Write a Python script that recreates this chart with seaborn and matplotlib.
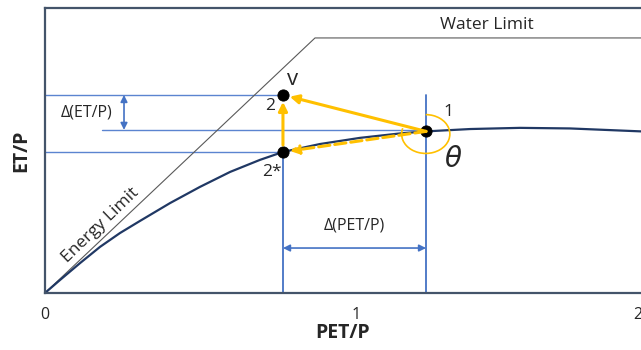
import matplotlib
matplotlib.use("Agg")
import matplotlib.pyplot as plt
from matplotlib.patches import Arc
import pandas as pd
import seaborn as sns

# Budyko-type curve (PET/P, ET/P)
curve_x = [0, 0.048, 0.113, 0.177, 0.241, 0.305, 0.402, 0.498, 0.595, 0.691,
           0.765, 0.884, 1.013, 1.141, 1.225, 1.367, 1.527, 1.688, 1.916]
curve_y = [0, 0.044, 0.102, 0.157, 0.204, 0.245, 0.306, 0.361, 0.412, 0.453,
           0.480, 0.507, 0.528, 0.543, 0.550, 0.558, 0.562, 0.560, 0.550]

# energy / water limit
limit_x = [0, 0.868, 1.916]
limit_y = [0, 0.868, 0.868]

# state points
pt_names = ["1", "2*", "2"]
pt_x = [1.225, 0.765, 0.765]
pt_y = [0.550, 0.480, 0.674]

tick_pos = [0, 1, 1.905]
tick_labels = ["0", "1", "2"]

navy = "#203864"
blue = "#5B84D0"
yellow = "#FFC000"

sns.set_style("white")
plt.rcParams["font.family"] = ["Open Sans", "DejaVu Sans"]

fig = plt.figure(figsize=(6.41, 3.5), dpi=100)
ax = fig.add_axes([0.0702, 0.1629, 0.9298, 0.8143])

# guide lines
ax.plot([0, pt_x[2]], [pt_y[2], pt_y[2]], color=blue, lw=1)
ax.plot([0.183, pt_x[0]], [0.555, 0.555], color=blue, lw=1)
ax.plot([0, pt_x[1]], [pt_y[1], pt_y[1]], color=blue, lw=1)
ax.plot([pt_x[1], pt_x[1]], [0, pt_y[1]], color="#4472C4", lw=1.3)
ax.plot([pt_x[0], pt_x[0]], [0, pt_y[2]], color="#4472C4", lw=1.3)

# delta arrows
ax.annotate("", xy=(0.254, 0.674), xytext=(0.254, 0.555),
            arrowprops=dict(arrowstyle="<|-|>", color="#4472C4", lw=1.2,
                            mutation_scale=10, shrinkA=0, shrinkB=0))
ax.text(0.135, 0.613, "Δ(ET/P)", fontsize=11.5, ha="center", va="center")
ax.annotate("", xy=(pt_x[1], 0.153), xytext=(pt_x[0], 0.153),
            arrowprops=dict(arrowstyle="<|-|>", color="#4472C4", lw=1.2,
                            mutation_scale=10, shrinkA=0, shrinkB=0))
ax.text(0.995, 0.231, "Δ(PET/P)", fontsize=11.5, ha="center", va="center")

# limits and curve
sns.lineplot(x=limit_x, y=limit_y, color="#595959", lw=0.8, ax=ax,
             sort=False, estimator=None)
sns.lineplot(x=curve_x, y=curve_y, color=navy, lw=1.6, ax=ax,
             sort=False, estimator=None)
ax.text(1.421, 0.912, "Water Limit", fontsize=12.5, ha="center", va="center")
ax.text(0.18, 0.231, "Energy Limit", fontsize=12.5, ha="center", va="center",
        rotation=44)

# points
pts = pd.DataFrame({"name": pt_names, "x": pt_x, "y": pt_y})
sns.scatterplot(data=pts, x="x", y="y", color="black", s=65, ax=ax,
                zorder=5, edgecolor="black", legend=False)

# yellow arrows
ax.annotate("", xy=(pt_x[2], pt_y[2]), xytext=(pt_x[0], pt_y[0]),
            arrowprops=dict(arrowstyle="-|>", color=yellow, lw=2.2,
                            mutation_scale=13, shrinkA=0, shrinkB=5), zorder=6)
ax.annotate("", xy=(pt_x[2], pt_y[2]), xytext=(pt_x[1], pt_y[1]),
            arrowprops=dict(arrowstyle="-|>", color=yellow, lw=2.2,
                            mutation_scale=13, shrinkA=5, shrinkB=5), zorder=6)
ax.annotate("", xy=(pt_x[1], pt_y[1]), xytext=(pt_x[0], pt_y[0]),
            arrowprops=dict(arrowstyle="-|>", color=yellow, lw=2.2, ls="--",
                            mutation_scale=13, shrinkA=0, shrinkB=5), zorder=6)
ax.add_patch(Arc((1.224, 0.541), 0.155, 0.132, theta1=165, theta2=90,
                 color=yellow, lw=1.2, zorder=6))

# point labels
ax.text(1.296, 0.616, "1", fontsize=12.5, ha="center", va="center")
ax.text(0.723, 0.636, "2", fontsize=12.5, ha="center", va="center")
ax.text(0.730, 0.412, "2*", fontsize=12.5, ha="center", va="center")
ax.text(0.796, 0.725, "v", fontsize=16, ha="center", va="center")
ax.text(1.312, 0.455, "θ", fontsize=20, ha="center", va="center",
        style="italic", family=["DejaVu Sans"])

ax.set_xlim(0, 1.916)
ax.set_ylim(0, 0.97)
ax.set_xticks(tick_pos)
ax.set_xticklabels(tick_labels, fontsize=11.5)
ax.set_yticks([])
ax.tick_params(axis="x", length=7, color=blue, width=1, pad=3)
ax.set_xlabel("PET/P", fontsize=14, fontweight="bold", labelpad=0)
ax.set_ylabel("ET/P", fontsize=14, fontweight="bold", labelpad=10)
for side in ["left", "top", "bottom"]:
    ax.spines[side].set_color("#44546A")
    ax.spines[side].set_linewidth(1.6)
ax.spines["right"].set_visible(False)

fig.savefig("out.png", dpi=100)
